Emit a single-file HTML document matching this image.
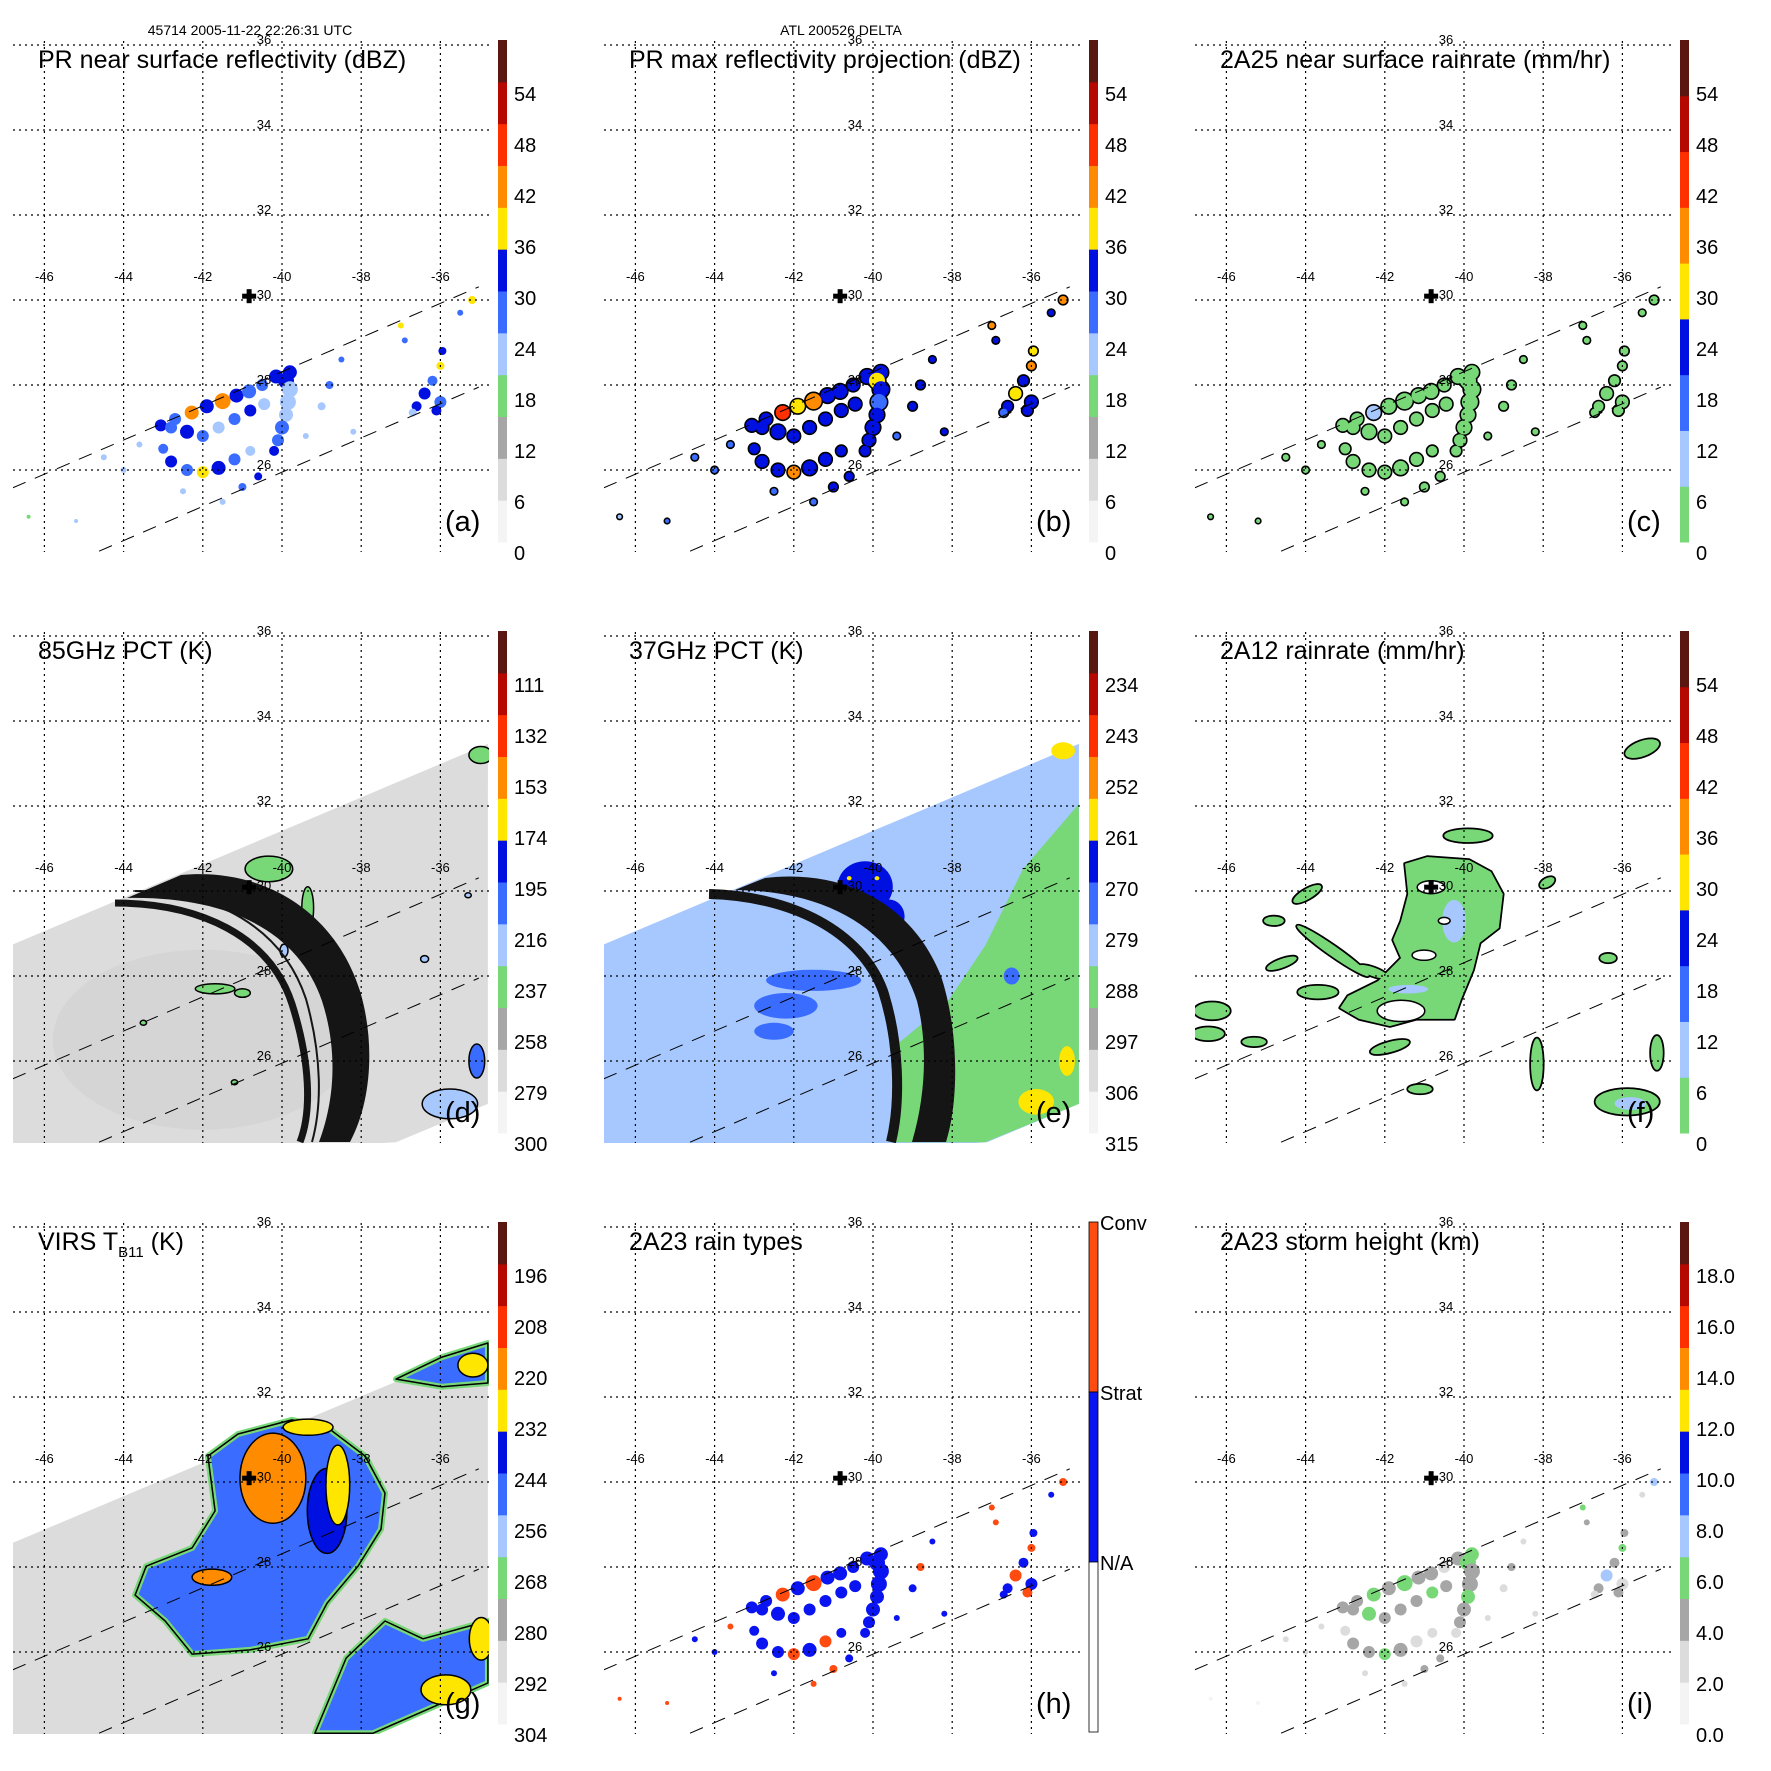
<!DOCTYPE html>
<html><head><meta charset="utf-8"><style>
html,body{margin:0;padding:0;background:#fff;}
svg{display:block;font-family:"Liberation Sans",sans-serif;}
</style></head><body>
<svg id="fig" width="1771" height="1771" viewBox="0 0 1771 1771">
<defs><clipPath id="plotclip" clipPathUnits="userSpaceOnUse"><rect x="13" y="41" width="476" height="511"/></clipPath></defs>
<rect width="1771" height="1771" fill="#fff"/>
<text x="250" y="35" font-size="14" text-anchor="middle">45714 2005-11-22 22:26:31 UTC</text>
<text x="841" y="35" font-size="14" text-anchor="middle">ATL 200526 DELTA</text>
</svg>
<script>
// ---------- data ----------
const lonTicks = [-46,-44,-42,-40,-38,-36];
const latTicks = [36,34,32,30,28,26];
const stormCenterLon = -40.83;
const stormCenterLat = 30.09;
const prSwathUpperLon = [-46.8,-35.03];
const prSwathUpperLat = [25.58,30.31];
const prSwathLowerLon = [-44.62,-35.03];
const prSwathLowerLat = [24.09,27.95];
const echoLon = [-43.06,-42.7,-42.28,-41.9,-41.5,-41.15,-40.83,-40.5,-40.15,-39.8,-39.9,-39.8,-39.85,-39.9,-40.0,-40.1,-40.2,-42.8,-42.4,-42.0,-41.6,-41.2,-40.8,-40.45,-43.0,-42.8,-42.4,-42.0,-41.6,-41.2,-40.8,-36.6,-36.4,-36.2,-36.0,-35.95,-36.0,-36.1,-36.7,-35.2,-35.5,-37.0,-36.9,-38.5,-38.8,-39.0,-39.4,-38.2,-44.5,-44.0,-43.6,-41.0,-41.5,-40.6,-46.4,-45.2,-42.5];
const echoLat = [27.05,27.2,27.35,27.5,27.62,27.75,27.85,28.0,28.2,28.3,28.1,27.9,27.6,27.3,27.0,26.7,26.45,27.0,26.9,26.8,27.0,27.2,27.4,27.55,26.5,26.2,26.0,25.95,26.05,26.25,26.45,27.5,27.8,28.1,28.45,28.8,27.6,27.4,27.35,30.0,29.7,29.4,29.05,28.6,28.0,27.5,26.8,26.9,26.3,26.0,26.6,25.6,25.25,25.85,24.9,24.8,25.5];
const echoSize = [6,6,7,7,8,7,7,6,7,7,8,8,8,7,7,6,5,6,7,6,6,6,6,6,5,6,6,6,7,6,5,5,6,5,4,4,6,5,4,4,3,3,3,3,4,4,3,3,3,3,3,4,3,4,2,2,3];
const reflNearSurface = [30,28,44,32,40,30,28,26,30,30,31,24,20,22,28,26,30,28,30,26,24,28,30,24,26,30,28,38,30,28,24,30,32,28,36,32,26,30,24,38,26,36,28,26,28,24,20,24,22,20,24,28,22,30,18,20,24];
const reflMaxProj = [34,32,46,36,44,34,32,30,34,34,36,30,28,30,32,30,34,32,34,30,30,32,34,30,30,34,32,42,34,32,30,34,36,32,40,36,30,34,28,42,30,40,32,30,32,30,28,30,28,26,28,32,28,34,24,26,28];
const rain2A25 = [3,3,8,4,6,3,3,2,3,3,4,3,2,2,3,2,3,3,3,2,2,3,3,2,2,3,3,5,3,3,2,3,4,3,5,4,2,3,2,5,2,4,3,2,3,2,1,2,1,1,2,3,1,3,1,1,2];
const rainType = [1,1,2,1,2,1,1,1,1,1,1,1,1,1,1,1,1,1,1,1,1,1,1,1,1,1,1,2,1,2,1,1,2,1,2,1,1,2,1,2,1,2,2,1,2,1,1,1,1,1,2,2,2,1,2,2,1];
const stormHeight = [4,4,5,4,5,4,4,3,4,6,5,4,4,6,4,4,3,4,5,4,4,4,6,4,3,4,4,5,4,3,3,4,7,4,5,4,3,4,3,7,3,5,4,3,4,3,3,3,2,2,3,4,3,4,1,1,3];
// 85 GHz PCT features
const pct85Lon = [-40.33,-39.35,-41.69,-41.0,-35.76,-35.08,-34.98,-36.4,-35.3,-40.0,-39.95,-43.5,-41.2];
const pct85Lat = [30.52,29.6,27.7,27.6,24.99,26.0,33.2,28.4,29.9,29.2,28.6,26.9,25.5];
const pct85Rx = [0.6,0.15,0.5,0.2,0.7,0.2,0.3,0.1,0.08,0.15,0.1,0.08,0.08];
const pct85Ry = [0.3,0.5,0.12,0.1,0.35,0.4,0.2,0.08,0.06,0.1,0.15,0.06,0.06];
const pct85Val = [240,240,240,240,225,200,240,220,220,225,220,240,240];
const pct85Bg = 282;
// 37 GHz PCT features
const pct37Bg = 281;
const pct37GreenLon = [-37.17,-39.52,-39.32,-38.16,-37.17,-36.21,-34.8,-34.8];
const pct37GreenLat = [24.09,24.09,26.45,27.34,28.71,30.52,32.05,24.99];
const pct37GreenVal = 288;
const pct37Lon = [-40.2,-39.6,-41.5,-42.2,-42.5,-40.6,-35.88,-35.1,-35.2,-36.5,-39.9];
const pct37Lat = [30.1,29.4,27.9,27.3,26.7,30.3,25.04,26.0,33.3,28.0,30.3];
const pct37Rx = [0.7,0.4,1.2,0.8,0.5,0.06,0.45,0.2,0.3,0.2,0.06];
const pct37Ry = [0.6,0.4,0.25,0.3,0.2,0.05,0.3,0.35,0.2,0.2,0.05];
const pct37Val = [268,268,272,274,274,258,258,262,260,272,258];
// 2A12 rain features
const rain2A12MainLon = [-41.49,-40.93,-39.87,-39.32,-39.02,-39.12,-39.60,-39.77,-40.08,-40.25,-41.21,-41.87,-42.65,-43.13,-42.93,-42.17,-41.59,-41.79,-41.59,-41.41];
const rain2A12MainLat = [30.64,30.80,30.73,30.45,29.93,29.13,28.78,28.14,27.44,26.99,26.99,26.82,26.99,27.25,27.53,27.88,28.42,28.85,29.29,29.93];
const rain2A12MainVal = 3;
const rainCellLon = [-43.31,-43.96,-43.69,-46.36,-46.46,-45.30,-41.87,-41.11,-38.16,-35.88,-35.13,-35.5,-36.36,-44.6,-42.3,-39.9,-44.8,-37.9,-40.25,-41.41,-35.8];
const rainCellLat = [28.59,29.93,27.62,27.18,26.64,26.45,26.33,25.34,25.93,25.04,26.19,33.35,28.42,28.3,28.1,31.3,29.3,30.2,29.29,27.69,25.0];
const rainCellRx = [1.1,0.4,0.5,0.45,0.4,0.3,0.5,0.3,0.15,0.8,0.15,0.45,0.2,0.4,0.4,0.6,0.25,0.2,0.3,0.5,0.4];
const rainCellRy = [0.12,0.12,0.15,0.2,0.15,0.1,0.12,0.1,0.6,0.3,0.4,0.18,0.1,0.1,0.1,0.15,0.1,0.1,0.5,0.1,0.15];
const rainCellRot = [35,-30,0,0,0,0,-15,0,0,0,0,-20,0,-20,20,0,0,-30,0,0,0];
const rainCellVal = [3,3,3,3,3,3,3,3,3,3,3,3,3,3,3,3,3,3,9,9,9];
const rainHoleLon = [-40.83,-41.59,-41.01,-40.5];
const rainHoleLat = [30.09,27.18,28.49,29.3];
const rainHoleRx = [0.35,0.6,0.3,0.15];
const rainHoleRy = [0.15,0.25,0.12,0.08];
// VIRS features
const virsBg = 288;
const virsStormLon = [-41.87,-41.11,-39.75,-38.86,-37.90,-37.40,-37.50,-38.08,-38.86,-39.34,-40.81,-42.27,-42.95,-43.71,-43.43,-42.27,-41.69];
const virsStormLat = [30.61,31.13,31.46,31.29,30.61,29.74,28.89,28.02,27.15,26.31,26.05,25.95,26.73,27.34,28.02,28.45,29.32];
const virsStormVal = 249;
const virsSouthLon = [-39.17,-38.38,-37.40,-36.44,-34.80,-34.80,-37.70];
const virsSouthLat = [24.09,25.86,26.73,26.31,26.73,25.27,24.09];
const virsNorthLon = [-37.12,-35.96,-34.80,-34.80,-35.96];
const virsNorthLat = [32.42,32.94,33.27,32.33,32.24];
const virsCoreLon = [-38.86,-40.23,-41.77,-38.59,-39.34,-35.86,-34.97,-35.18];
const virsCoreLat = [29.32,30.09,27.76,29.93,31.29,25.11,26.31,32.75];
const virsCoreRx = [0.5,0.83,0.5,0.3,0.63,0.63,0.3,0.38];
const virsCoreRy = [1.0,1.06,0.19,0.94,0.19,0.35,0.5,0.28];
const virsCoreVal = [240,218,218,228,228,228,228,228];

// ---------- axes & colormaps ----------
function X(lon){ return 282 + (lon + 40) * 39.6; }
function Y(lat){ return 300 - (lat - 30) * 42.5; }
function RX(d){ return d * 39.6; }
function RY(d){ return d * 42.5; }
const mapA = ['#f4f4f4','#dcdcdc','#a6a6a6','#78d878','#a6c8ff','#3a6cff','#0010e0','#ffe600','#ff8c00','#ff3000','#b40800','#5a1610'];
const mapC = ['#78d878','#a6c8ff','#3a6cff','#0010e0','#ffe600','#ff8c00','#ff3000','#b40800','#5a1610'];
function colorOf(v, p){
  let f = p.rev ? (p.max - v) / (p.max - p.min) : (v - p.min) / (p.max - p.min);
  let i = Math.floor(f * p.map.length);
  i = Math.max(0, Math.min(p.map.length - 1, i));
  return p.map[i];
}
const NS = 'http://www.w3.org/2000/svg';
function mk(tag, parent){ const e = document.createElementNS(NS, tag); parent.appendChild(e); return e; }
function set(e, o){ for (const k in o) e.setAttribute(k, o[k]); return e; }
function pts(lons, lats){ return lons.map((l,i)=>X(l).toFixed(1)+','+Y(lats[i]).toFixed(1)).join(' '); }

const svg = document.getElementById('fig');
const panels = [
  {id:'a', col:0,row:0, title:'PR near surface reflectivity (dBZ)', map:mapA, min:0,max:60,rev:false, ticks:[0,6,12,18,24,30,36,42,48,54], fmt:v=>String(v)},
  {id:'b', col:1,row:0, title:'PR max reflectivity projection (dBZ)', map:mapA, min:0,max:60,rev:false, ticks:[0,6,12,18,24,30,36,42,48,54], fmt:v=>String(v)},
  {id:'c', col:2,row:0, title:'2A25 near surface rainrate (mm/hr)', map:mapC, min:0,max:60,rev:false, ticks:[0,6,12,18,24,30,36,42,48,54], fmt:v=>String(v)},
  {id:'d', col:0,row:1, title:'85GHz PCT (K)', map:mapA, min:90,max:300,rev:true, ticks:[111,132,153,174,195,216,237,258,279,300], fmt:v=>String(v)},
  {id:'e', col:1,row:1, title:'37GHz PCT (K)', map:mapA, min:225,max:315,rev:true, ticks:[234,243,252,261,270,279,288,297,306,315], fmt:v=>String(v)},
  {id:'f', col:2,row:1, title:'2A12 rainrate (mm/hr)', map:mapC, min:0,max:60,rev:false, ticks:[0,6,12,18,24,30,36,42,48,54], fmt:v=>String(v)},
  {id:'g', col:0,row:2, title:'VIRS', map:mapA, min:184,max:304,rev:true, ticks:[196,208,220,232,244,256,268,280,292,304], fmt:v=>String(v)},
  {id:'h', col:1,row:2, title:'2A23 rain types', map:null},
  {id:'i', col:2,row:2, title:'2A23 storm height (km)', map:mapA, min:0,max:20,rev:false, ticks:[0,2,4,6,8,10,12,14,16,18], fmt:v=>v.toFixed(1)}
];

function ell(parent, lon, lat, rx, ry, rot, fill, stroke, sw){
  const e = mk('ellipse', parent);
  set(e, {cx:X(lon).toFixed(1), cy:Y(lat).toFixed(1), rx:RX(rx).toFixed(1), ry:RY(ry).toFixed(1), fill:fill});
  if (rot) e.setAttribute('transform', 'rotate('+rot+' '+X(lon).toFixed(1)+' '+Y(lat).toFixed(1)+')');
  if (stroke) set(e, {stroke:stroke, 'stroke-width':sw});
  return e;
}

function drawEchoes(g, p, vals, outline, typeMode){
  if (outline){
    for (let i=0;i<echoLon.length;i++){
      const c = mk('circle', g);
      set(c, {cx:X(echoLon[i]).toFixed(1), cy:Y(echoLat[i]).toFixed(1), r:echoSize[i]+1.6, fill:'#000'});
      
      
    }
  }
  for (let i=0;i<echoLon.length;i++){
    const c = mk('circle', g);
    let col = typeMode ? (vals[i] === 2 ? '#ff4a10' : '#0a14f0') : colorOf(vals[i], p);
    set(c, {cx:X(echoLon[i]).toFixed(1), cy:Y(echoLat[i]).toFixed(1), r:echoSize[i], fill:col});
    
    
  }
}

function drawContent(g, p){
  if (p.id === 'a') drawEchoes(g, p, reflNearSurface, false, false);
  if (p.id === 'b') drawEchoes(g, p, reflMaxProj, true, false);
  if (p.id === 'c') drawEchoes(g, p, rain2A25, true, false);
  if (p.id === 'h') drawEchoes(g, p, rainType, false, true);
  if (p.id === 'i') drawEchoes(g, p, stormHeight, false, false);
  if (p.id === 'd' || p.id === 'e'){
    const sw = mk('polygon', g);
    set(sw, {points: pts([-47,-34.8,-34.8,-37.12,-47],[28.66,33.46,24.99,24.09,23.5]), fill: colorOf(p.id==='d'?pct85Bg:pct37Bg, p)});
    
    
    if (p.id === 'd'){
      const sh = mk('ellipse', g);
      set(sh, {cx:X(-42), cy:Y(26.5), rx:150, ry:90, fill:'#c8c8c8', opacity:0.3});
      
      
      for (let i=0;i<pct85Lon.length;i++){
        const e = ell(g, pct85Lon[i], pct85Lat[i], pct85Rx[i], pct85Ry[i], 0, colorOf(pct85Val[i], p), '#000', 1.5);
        
        
      }
      const band = mk('path', g);
      set(band, {d:'M127,307 L181,284 C262,276 335,320 360,400 C375,450 372,510 350,551 L319,551 C338,500 335,450 322,410 C300,345 235,305 127,307 Z', fill:'#151515'});
      
      
      const ring = mk('path', g);
      set(ring, {d:'M115,312 C200,312 270,345 292,413 C310,470 312,520 300,551', fill:'none', stroke:'#151515', 'stroke-width':7});
      
      
      const ring2 = mk('path', g);
      set(ring2, {d:'M135,300 C215,300 282,336 306,408 C322,465 322,515 312,551', fill:'none', stroke:'#151515', 'stroke-width':2});
      
      
    } else {
      const gr = mk('polygon', g);
      set(gr, {points: pts(pct37GreenLon, pct37GreenLat), fill: colorOf(pct37GreenVal, p)});
      
      
      for (let i=0;i<pct37Lon.length;i++){
        const e = ell(g, pct37Lon[i], pct37Lat[i], pct37Rx[i], pct37Ry[i], 0, colorOf(pct37Val[i], p));
        
        
      }
      const band = mk('path', g);
      set(band, {d:'M144,299 L174,287 C250,278 320,310 350,385 C368,440 368,510 355,551 L321,551 C336,500 336,450 326,410 C305,345 245,300 144,299 Z', fill:'#151515'});
      
      
      const ring = mk('path', g);
      set(ring, {d:'M118,303 C200,305 270,340 292,400 C308,450 310,510 300,551', fill:'none', stroke:'#151515', 'stroke-width':10});
      
      
    }
  }
  if (p.id === 'f'){
    const cp = {map:mapC, min:0, max:60, rev:false};
    const mo = mk('polygon', g);
    set(mo, {points: pts(rain2A12MainLon, rain2A12MainLat), fill:'#000', stroke:'#000', 'stroke-width':3.5, 'stroke-linejoin':'round'});
    
    
    for (let i=0;i<rainCellLon.length;i++){
      if (rainCellVal[i] > 5) continue;
      const e = ell(g, rainCellLon[i], rainCellLat[i], rainCellRx[i], rainCellRy[i], rainCellRot[i], '#000', '#000', 3.5);
      
      
    }
    const m = mk('polygon', g);
    set(m, {points: pts(rain2A12MainLon, rain2A12MainLat), fill: colorOf(rain2A12MainVal, cp)});
    
    
    for (let i=0;i<rainCellLon.length;i++){
      const e = ell(g, rainCellLon[i], rainCellLat[i], rainCellRx[i], rainCellRy[i], rainCellRot[i], colorOf(rainCellVal[i], cp));
      
      
    }
    for (let i=0;i<rainHoleLon.length;i++){
      const e = ell(g, rainHoleLon[i], rainHoleLat[i], rainHoleRx[i], rainHoleRy[i], 0, '#fff', '#000', 1.5);
      
      
    }
  }
  if (p.id === 'g'){
    const sw = mk('polygon', g);
    set(sw, {points: pts([-47,-34.8,-34.8,-37.7,-47],[28.49,33.27,25.27,24.09,23.5]), fill: colorOf(virsBg, p)});
    
    
    const polys = [[virsStormLon, virsStormLat, 'storm-cloud-shield'], [virsSouthLon, virsSouthLat, 'southern-cloud-band'], [virsNorthLon, virsNorthLat, 'northern-cloud-band']];
    for (const pp of polys){
      const o = mk('polygon', g);
      set(o, {points: pts(pp[0], pp[1]), fill: colorOf(virsStormVal, p), stroke: colorOf(268, p), 'stroke-width':6, 'stroke-linejoin':'round'});
      
      
      const o2 = mk('polygon', g);
      set(o2, {points: pts(pp[0], pp[1]), fill:'none', stroke:'#000', 'stroke-width':1.5, 'stroke-linejoin':'round'});
      
      
    }
    for (let i=0;i<virsCoreLon.length;i++){
      const e = ell(g, virsCoreLon[i], virsCoreLat[i], virsCoreRx[i], virsCoreRy[i], 0, colorOf(virsCoreVal[i], p), '#000', 1.5);
      
      
    }
  }
}

for (const p of panels){
  const ox = p.col * 591, oy = p.row * 591;
  const pg = mk('g', svg);
  pg.setAttribute('transform', 'translate('+ox+','+oy+')');
  
  
  const plot = mk('g', pg);
  plot.setAttribute('clip-path', 'url(#plotclip)');
  
  
  drawContent(plot, p);
  for (const lon of lonTicks){
    const l = mk('line', plot);
    set(l, {x1:X(lon), x2:X(lon), y1:41, y2:552, stroke:'#000', 'stroke-width':1.2, 'stroke-dasharray':'2,4'});
    
    
  }
  for (const lat of latTicks){
    const l = mk('line', plot);
    set(l, {x1:13, x2:489, y1:Y(lat), y2:Y(lat), stroke:'#000', 'stroke-width':1.2, 'stroke-dasharray':'2,4'});
    
    
  }
  const s1 = mk('line', plot);
  set(s1, {x1:X(prSwathUpperLon[0]), y1:Y(prSwathUpperLat[0]), x2:X(prSwathUpperLon[1]), y2:Y(prSwathUpperLat[1]), stroke:'#000', 'stroke-width':1, 'stroke-dasharray':'14,10'});
  
  
  const s2 = mk('line', plot);
  set(s2, {x1:X(prSwathLowerLon[0]), y1:Y(prSwathLowerLat[0]), x2:X(prSwathLowerLon[1]), y2:Y(prSwathLowerLat[1]), stroke:'#000', 'stroke-width':1, 'stroke-dasharray':'14,10'});
  
  
  for (const lon of lonTicks){
    const t = mk('text', pg);
    set(t, {x:X(lon), y:281, 'font-size':13, 'text-anchor':'middle'});
    t.textContent = String(lon);
    
    
  }
  for (const lat of latTicks){
    const t = mk('text', pg);
    set(t, {x:264, y:Y(lat)-1, 'font-size':13, 'text-anchor':'middle'});
    t.textContent = String(lat);
    
    
  }
  const cx = X(stormCenterLon), cy = Y(stormCenterLat);
  const cr1 = mk('rect', pg);
  set(cr1, {x:cx-7, y:cy-2.5, width:14, height:5, fill:'#000'});
  
  
  const cr2 = mk('rect', pg);
  set(cr2, {x:cx-2.5, y:cy-7, width:5, height:14, fill:'#000'});
  
  
  const tt = mk('text', pg);
  set(tt, {x:38, y:68, 'font-size':25});
  if (p.id === 'g'){
    tt.innerHTML = 'VIRS T<tspan font-size="15" dy="7">B11</tspan><tspan dy="-7"> (K)</tspan>';
  } else {
    tt.textContent = p.title;
  }
  
  
  const lt = mk('text', pg);
  set(lt, {x:445, y:531, 'font-size':29});
  lt.textContent = '(' + p.id + ')';
  
  
  const cb = mk('g', pg);
  
  
  if (p.map){
    const n = p.map.length, top = 40, bot = 542, h = (bot - top) / n;
    for (let i=0;i<n;i++){
      const r = mk('rect', cb);
      set(r, {x:498, y:(bot - (i+1)*h).toFixed(2), width:9, height:(h+0.5).toFixed(2), fill:p.map[i]});
      
      
    }
    for (const v of p.ticks){
      const f = p.rev ? (p.max - v)/(p.max - p.min) : (v - p.min)/(p.max - p.min);
      const y = 553 - f * 510;
      const t = mk('text', cb);
      set(t, {x:514, y:(y+7).toFixed(1), 'font-size':20});
      t.textContent = p.fmt(v);
      
      
    }
  } else {
    const bands = [['#ff4a10',40,210],['#0a14f0',210,380],['#ffffff',380,550]];
    for (const b of bands){
      const r = mk('rect', cb);
      set(r, {x:498, y:b[1], width:9, height:b[2]-b[1], fill:b[0], stroke:'#000', 'stroke-width':0.8});
      
      
    }
    const labs = [['Conv',48],['Strat',218],['N/A',388]];
    for (const l of labs){
      const t = mk('text', cb);
      set(t, {x:509, y:l[1], 'font-size':20});
      t.textContent = l[0];
      
      
    }
  }
}
</script>
</body></html>
